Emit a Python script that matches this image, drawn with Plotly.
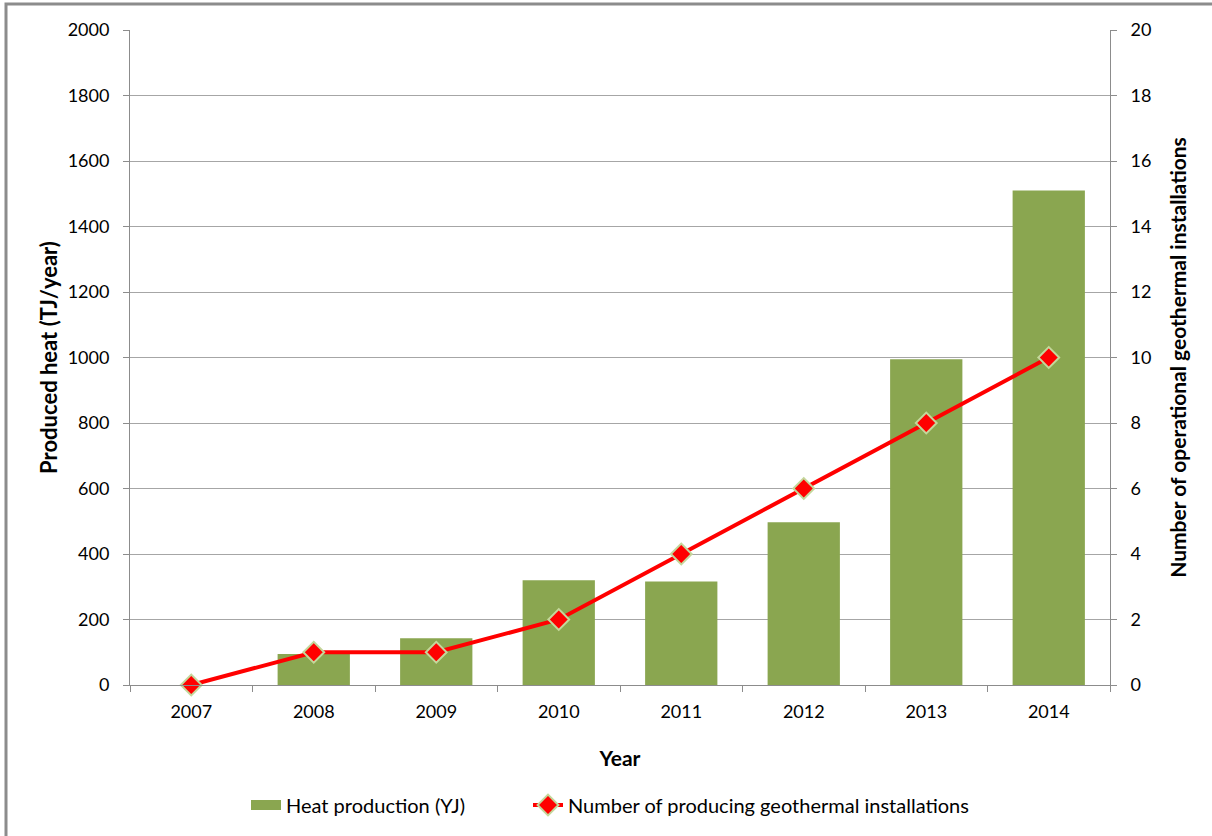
import plotly.graph_objects as go

years = ["2007", "2008", "2009", "2010", "2011", "2012", "2013", "2014"]
heat_tj = [0, 95, 143, 320, 316, 497, 995, 1510]
installations = [0, 1, 1, 2, 4, 6, 8, 10]

left_ticks = [0, 200, 400, 600, 800, 1000, 1200, 1400, 1600, 1800, 2000]
right_ticks = [0, 2, 4, 6, 8, 10, 12, 14, 16, 18, 20]

FONT = "Lato, Calibri, Carlito, sans-serif"
AXIS_GREY = "#8c8c8c"
GRID_GREY = "#a6a6a6"
BAR_GREEN = "#8aa650"

fig = go.Figure()

fig.add_trace(go.Bar(
    x=years, y=heat_tj, name="Heat production (YJ)",
    marker=dict(color=BAR_GREEN, line=dict(width=0)),
    yaxis="y", showlegend=False,
))

# legend entry for the bars, drawn as a wide flat swatch
fig.add_trace(go.Scatter(
    x=[None], y=[None], name="Heat production (YJ)", mode="lines",
    line=dict(color=BAR_GREEN, width=13), yaxis="y", legend="legend",
))

fig.add_trace(go.Scatter(
    x=years, y=installations, name="Number of producing geothermal installations",
    mode="lines+markers", cliponaxis=False,
    line=dict(color="#ff0000", width=4),
    marker=dict(symbol="diamond", size=16, color="#ff0000",
                line=dict(color="#c4d79b", width=2)),
    yaxis="y2", legend="legend2",
))

# page-wide frame around the chart (in paper coordinates of a 980x655 plot area)
plot_l, plot_t, plot_w, plot_h = 130, 30, 980, 655
def px_x(px):
    return (px - plot_l) / plot_w
def px_y(py):
    return (plot_t + plot_h - py) / plot_h

fig.add_shape(type="rect", xref="paper", yref="paper",
              x0=px_x(6), x1=px_x(1240), y0=px_y(870), y1=px_y(4),
              line=dict(color="#8c8c8c", width=3), fillcolor="rgba(0,0,0,0)",
              layer="below")

legend_style = dict(orientation="h", xanchor="left", y=px_y(805), yanchor="middle",
                    font=dict(size=20), bgcolor="rgba(0,0,0,0)")

fig.update_layout(
    width=1212, height=836,
    margin=dict(l=130, r=102, t=30, b=151),
    paper_bgcolor="white", plot_bgcolor="white",
    font=dict(family=FONT, size=18, color="#000000"),
    bargap=0.41,
    showlegend=True,
    legend=dict(x=px_x(246), **legend_style),
    legend2=dict(x=px_x(528), **legend_style),
    xaxis=dict(
        type="category", tickson="boundaries", ticks="outside", ticklen=6,
        tickcolor=AXIS_GREY, showline=True, linecolor=AXIS_GREY, linewidth=1,
        showgrid=False, mirror=False, ticklabelstandoff=10,
        title=dict(text="<b>Year</b>", font=dict(size=21), standoff=30),
        tickfont=dict(size=18),
    ),
    yaxis=dict(
        range=[0, 2000], tickvals=left_ticks, ticks="outside", ticklen=6,
        tickcolor=AXIS_GREY, showline=True, linecolor=AXIS_GREY, linewidth=1,
        showgrid=True, gridcolor=GRID_GREY, gridwidth=1, zeroline=False,
        ticklabelstandoff=10,
        title=dict(text="<b>Produced heat (TJ/year)</b>", font=dict(size=22), standoff=3),
        tickfont=dict(size=18),
    ),
    yaxis2=dict(
        range=[0, 20], tickvals=right_ticks, ticks="outside", ticklen=6,
        tickcolor=AXIS_GREY, showline=True, linecolor=AXIS_GREY, linewidth=1,
        showgrid=False, zeroline=False, overlaying="y", side="right",
        ticklabelstandoff=10,
        title=dict(text="<b>Number of operational geothermal installations</b>",
                   font=dict(size=21), standoff=20),
        tickfont=dict(size=18),
    ),
)

fig.write_html("out.html")
